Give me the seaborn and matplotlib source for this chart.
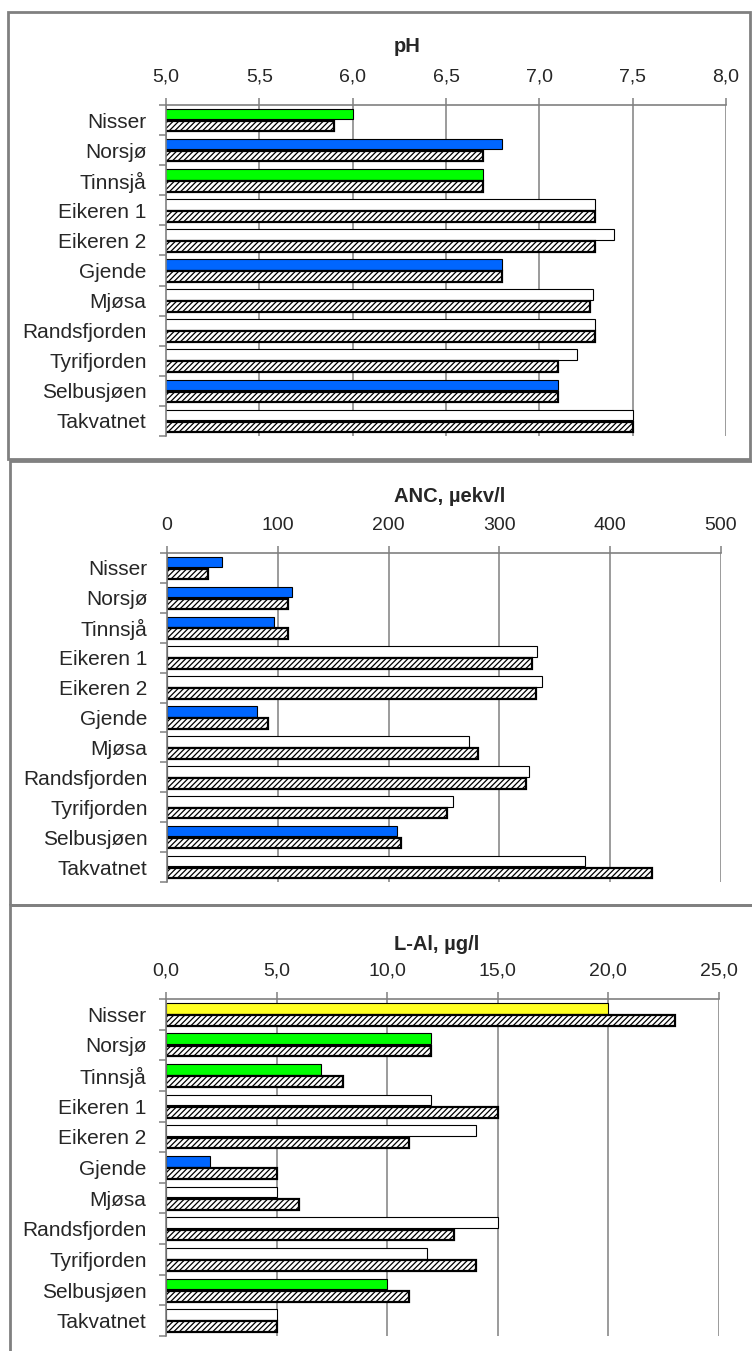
import numpy as np
import pandas as pd
import matplotlib
matplotlib.use("Agg")
import matplotlib.pyplot as plt
import seaborn as sns
from matplotlib.patches import Rectangle
from matplotlib.ticker import FuncFormatter, FixedLocator

# ---------------- data ----------------
lakes = ["Nisser", "Norsjø", "Tinnsjå", "Eikeren 1", "Eikeren 2", "Gjende",
         "Mjøsa", "Randsfjorden", "Tyrifjorden", "Selbusjøen", "Takvatnet"]

ph_a = [6.0, 6.8, 6.7, 7.3, 7.4, 6.8, 7.29, 7.3, 7.2, 7.1, 7.5]
ph_b = [5.9, 6.7, 6.7, 7.3, 7.3, 6.8, 7.27, 7.3, 7.1, 7.1, 7.5]
ph_colors = ["#00FF00", "#0066FF", "#00FF00", "white", "white", "#0066FF",
             "white", "white", "white", "#0066FF", "white"]
ph_ticks = [5.0, 5.5, 6.0, 6.5, 7.0, 7.5, 8.0]

anc_a = [50, 113, 97, 334, 338, 81, 273, 327, 258, 208, 377]
anc_b = [37, 109, 109, 329, 333, 91, 281, 324, 253, 211, 438]
anc_colors = ["#0066FF", "#0066FF", "#0066FF", "white", "white", "#0066FF",
              "white", "white", "white", "#0066FF", "white"]
anc_ticks = [0, 100, 200, 300, 400, 500]

lal_a = [20.0, 12.0, 7.0, 12.0, 14.0, 2.0, 5.0, 15.0, 11.8, 10.0, 5.0]
lal_b = [23.0, 12.0, 8.0, 15.0, 11.0, 5.0, 6.0, 13.0, 14.0, 11.0, 5.0]
lal_colors = ["#FFFF22", "#00FF00", "#00FF00", "white", "white", "#0066FF",
              "white", "white", "white", "#00FF00", "white"]
lal_ticks = [0.0, 5.0, 10.0, 15.0, 20.0, 25.0]

titles = ["pH", "ANC, µekv/l", "L-Al, µg/l"]

# ---------------- style ----------------
sns.set_style("white")
plt.rcParams['font.family'] = ['Liberation Sans', 'DejaVu Sans']
plt.rcParams['hatch.linewidth'] = 0.9
plt.rcParams['hatch.color'] = 'black'

W, H = 752, 1351
fig = plt.figure(figsize=(W / 100, H / 100), dpi=100)
GRAY = "#808080"


def add_ax(x0, x1, y0, y1):
    return fig.add_axes([x0 / W, 1 - y1 / H, (x1 - x0) / W, (y1 - y0) / H])


def box(x0, x1, y0, y1):
    fig.add_artist(Rectangle((x0 / W, 1 - y1 / H), (x1 - x0) / W, (y1 - y0) / H,
                             transform=fig.transFigure, fill=False,
                             edgecolor=GRAY, linewidth=2.0, zorder=10))


panels = [
    dict(a=ph_a, b=ph_b, colors=ph_colors, ticks=ph_ticks, dec=1,
         rect=(166, 726, 105, 436), tx=407, ty=46),
    dict(a=anc_a, b=anc_b, colors=anc_colors, ticks=anc_ticks, dec=0,
         rect=(167, 721, 553, 882), tx=450, ty=497),
    dict(a=lal_a, b=lal_b, colors=lal_colors, ticks=lal_ticks, dec=1,
         rect=(166, 719, 999, 1336), tx=437, ty=945),
]

box(8, 750, 12, 459)
box(10, 760, 461, 905)
box(10, 760, 905, 1370)

for p, title in zip(panels, titles):
    ax = add_ax(*p["rect"])
    df = pd.DataFrame({
        "lake": lakes * 2,
        "value": list(p["a"]) + list(p["b"]),
        "serie": ["a"] * len(lakes) + ["b"] * len(lakes),
    })
    sns.barplot(data=df, x="value", y="lake", hue="serie", orient="h",
                palette=["white", "white"], width=0.8, gap=0.12,
                errorbar=None, legend=False, saturation=1, ax=ax)
    for patch, c in zip(ax.containers[0], p["colors"]):
        patch.set_facecolor(c)
        patch.set_edgecolor("black")
        patch.set_linewidth(0.8)
    for patch in ax.containers[1]:
        patch.set_facecolor("white")
        patch.set_edgecolor("black")
        patch.set_hatch("//////")
        patch.set_linewidth(1.6)

    ticks = p["ticks"]
    ax.set_xlim(ticks[0], ticks[-1])
    ax.set_ylim(len(lakes) - 0.5, -0.5)
    ax.set_xticks(ticks)
    dec = p["dec"]
    ax.xaxis.set_major_formatter(FuncFormatter(
        lambda v, pos, d=dec: f"{v:.{d}f}".replace(".", ",")))
    ax.xaxis.tick_top()
    ax.tick_params(axis="x", which="major", top=True, bottom=False,
                   length=5, width=1.1, color=GRAY, pad=9, labelsize=14)
    ax.yaxis.set_minor_locator(FixedLocator(np.arange(-0.5, len(lakes), 1.0)))
    ax.tick_params(axis="y", which="major", length=0, pad=14, labelsize=15)
    ax.tick_params(axis="y", which="minor", left=True, length=5, width=1.1,
                   color=GRAY)
    ax.grid(axis="x", color=GRAY, linewidth=1.1)
    ax.grid(axis="y", visible=False)
    ax.set_axisbelow(True)
    for s in ["right", "bottom"]:
        ax.spines[s].set_visible(False)
    for s in ["top", "left"]:
        ax.spines[s].set_color(GRAY)
        ax.spines[s].set_linewidth(1.2)
    ax.set_xlabel("")
    ax.set_ylabel("")
    fig.text(p["tx"] / W, 1 - p["ty"] / H, title, ha="center", va="center",
             fontsize=14.5, fontweight="bold")

fig.savefig("out.png", dpi=100)
